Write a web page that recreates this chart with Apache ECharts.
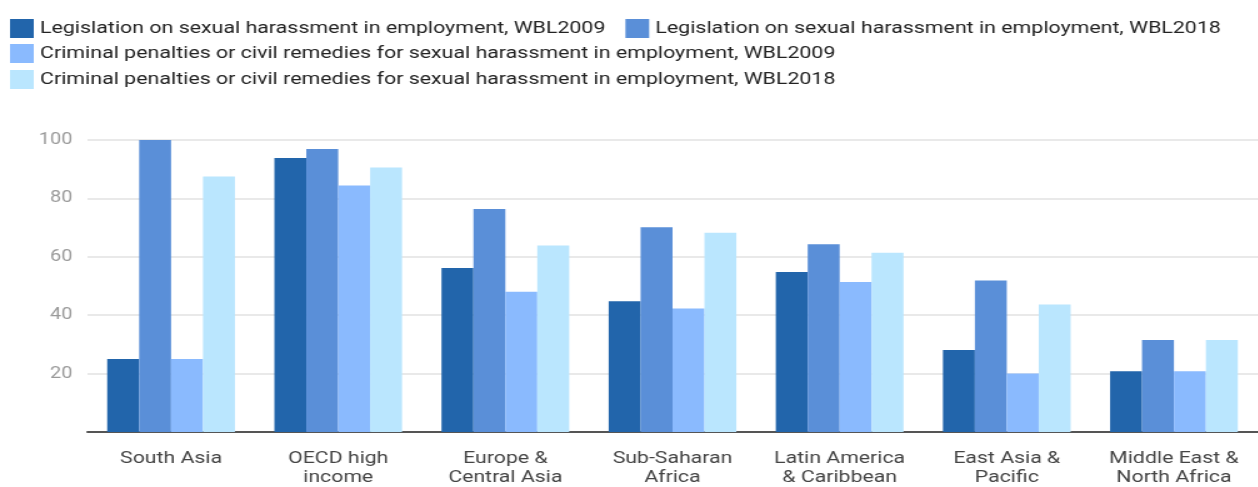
<!DOCTYPE html>
<html>
<head>
<meta charset="utf-8">
<script src="https://cdn.jsdelivr.net/npm/echarts@6/dist/echarts.min.js"></script>
<style>
  html, body { margin: 0; padding: 0; background: #fff; overflow: hidden; }
  /* the chart is laid out on a narrower canvas and widened horizontally */
  #chart { width: 1006px; height: 487px; transform: scaleX(1.25); transform-origin: 0 0; }
</style>
</head>
<body>
<div id="chart"></div>
<script>
// Regions (two-line labels)
const categories = [
  'South Asia', 'OECD high\nincome', 'Europe &\nCentral Asia', 'Sub-Saharan\nAfrica',
  'Latin America\n& Caribbean', 'East Asia &\nPacific', 'Middle East &\nNorth Africa'
];

// Series names
const nameLaw2009 = 'Legislation on sexual harassment in employment, WBL2009';
const nameLaw2018 = 'Legislation on sexual harassment in employment, WBL2018';
const nameRemedy2009 = 'Criminal penalties or civil remedies for sexual harassment in employment, WBL2009';
const nameRemedy2018 = 'Criminal penalties or civil remedies for sexual harassment in employment, WBL2018';

// Share of economies (%) per region
const law2009 = [25.0, 93.8, 56.2, 44.8, 54.8, 28.1, 20.8];
const law2018 = [100.0, 96.9, 76.4, 70.1, 64.3, 51.9, 31.5];
const remedy2009 = [25.0, 84.4, 48.0, 42.3, 51.4, 20.0, 20.8];
const remedy2018 = [87.5, 90.6, 63.9, 68.2, 61.4, 43.7, 31.5];

// Y-axis ticks
const yMin = 0, yMax = 100, yStep = 20;

const colors = ['#2265ab', '#5a8fd8', '#8abafe', '#bae6fe'];

const legendText = { fontFamily: 'Roboto', fontSize: 17.1, color: '#222' };
const legendBase = {
  orient: 'horizontal', left: 8, itemWidth: 19, itemHeight: 19, itemGap: 16,
  icon: 'rect', textStyle: legendText, selectedMode: false, padding: 0
};

const chart = echarts.init(document.getElementById('chart'), null, { renderer: 'canvas' });
chart.setOption({
  animation: false,
  color: colors,
  legend: [
    Object.assign({}, legendBase, { top: 19, data: [nameLaw2009, nameLaw2018] }),
    Object.assign({}, legendBase, { top: 44, data: [nameRemedy2009] }),
    Object.assign({}, legendBase, { top: 70, data: [nameRemedy2018] })
  ],
  grid: { left: 70, right: 0, top: 140, bottom: 52, containLabel: false },
  xAxis: {
    type: 'category',
    data: categories,
    axisLine: { lineStyle: { color: '#555', width: 2 } },
    axisTick: { show: false },
    axisLabel: {
      interval: 0, margin: 17, fontFamily: 'Roboto', fontSize: 17, lineHeight: 19, color: '#444'
    }
  },
  yAxis: {
    type: 'value',
    min: yMin, max: yMax, interval: yStep,
    axisLine: { show: false },
    axisTick: { show: false },
    splitLine: { lineStyle: { color: '#e2e2e2', width: 1.5 } },
    axisLabel: {
      margin: 12, fontFamily: 'Roboto', fontSize: 16, color: '#9a9a9a',
      formatter: v => (v === 0 ? '' : String(v))
    }
  },
  series: [
    { name: nameLaw2009, type: 'bar', data: law2009, barGap: '0%', barCategoryGap: '23.6%' },
    { name: nameLaw2018, type: 'bar', data: law2018, barGap: '0%', barCategoryGap: '23.6%' },
    { name: nameRemedy2009, type: 'bar', data: remedy2009, barGap: '0%', barCategoryGap: '23.6%' },
    { name: nameRemedy2018, type: 'bar', data: remedy2018, barGap: '0%', barCategoryGap: '23.6%' }
  ]
});
</script>
</body>
</html>
